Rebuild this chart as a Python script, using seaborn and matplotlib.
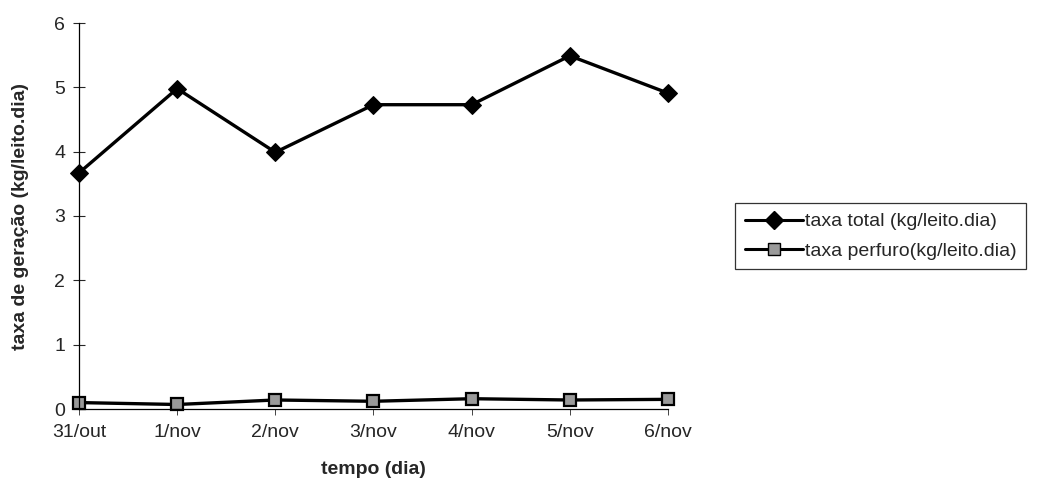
import matplotlib
matplotlib.use("Agg")
import matplotlib.pyplot as plt
import seaborn as sns
import pandas as pd
from matplotlib.lines import Line2D

days = ["31/out", "1/nov", "2/nov", "3/nov", "4/nov", "5/nov", "6/nov"]
taxa_total = [3.67, 4.98, 3.99, 4.73, 4.73, 5.49, 4.91]
taxa_perfuro = [0.10, 0.07, 0.14, 0.12, 0.16, 0.14, 0.15]
yticks = [0, 1, 2, 3, 4, 5, 6]
series_names = ["taxa total (kg/leito.dia)", "taxa perfuro(kg/leito.dia)"]

sns.set_style("white")
plt.rcParams["font.family"] = ["Liberation Sans", "DejaVu Sans"]

FS = 14

df = pd.DataFrame({
    "pos": list(range(len(days))) * 2,
    "valor": taxa_total + taxa_perfuro,
    "serie": [series_names[0]] * len(days) + [series_names[1]] * len(days),
})

fig = plt.figure(figsize=(10.4, 4.87), dpi=100)
ax = fig.add_axes([79/1040, 1 - 409/487, (668 - 79)/1040, (409 - 23)/487])

sns.lineplot(data=df, x="pos", y="valor", hue="serie", style="serie",
             markers={series_names[0]: "D", series_names[1]: "s"},
             dashes=False,
             palette={series_names[0]: "black", series_names[1]: "black"},
             ax=ax, legend=False, linewidth=2.4)

for line in ax.lines:
    line.set_clip_on(False)
ax.lines[0].set_markersize(9)
ax.lines[0].set_markerfacecolor("black")
ax.lines[0].set_markeredgecolor("black")
ax.lines[1].set_markersize(9)
ax.lines[1].set_markerfacecolor("#9a9a9a")
ax.lines[1].set_markeredgecolor("black")
ax.lines[1].set_markeredgewidth(1.6)

ax.set_xlim(0, len(days) - 1)
ax.set_ylim(0, 6)
ax.set_yticks(yticks)
ax.set_xticks(range(len(days)))
ax.set_xticklabels(days)
ax.tick_params(axis="y", direction="inout", length=8, width=0.8, labelsize=FS, pad=6, left=True)
ax.tick_params(axis="x", direction="out", length=4, width=0.6, labelsize=FS, pad=7, bottom=True)
for s in ["top", "right"]:
    ax.spines[s].set_visible(False)
for s in ["left", "bottom"]:
    ax.spines[s].set_linewidth(0.9)
    ax.spines[s].set_color("black")

ax.set_xlabel("tempo (dia)", fontsize=FS, fontweight="bold", labelpad=14)
ax.set_ylabel("taxa de geração (kg/leito.dia)", fontsize=FS, fontweight="bold", labelpad=18)

handles = [
    Line2D([], [], color="black", lw=2.2, marker="D", markersize=9, markerfacecolor="black"),
    Line2D([], [], color="black", lw=2.2, marker="s", markersize=9, markerfacecolor="#9a9a9a", markeredgecolor="black"),
]
leg = fig.legend(handles, series_names,
                 loc="upper left", bbox_to_anchor=(735/1040, 1 - 203/487),
                 frameon=True, fancybox=False, fontsize=FS, handlelength=3.0,
                 handletextpad=0.1, borderpad=0.5, labelspacing=0.6, borderaxespad=0)
leg.get_frame().set_edgecolor("black")
leg.get_frame().set_linewidth(0.9)

fig.savefig("out.png", dpi=100)
